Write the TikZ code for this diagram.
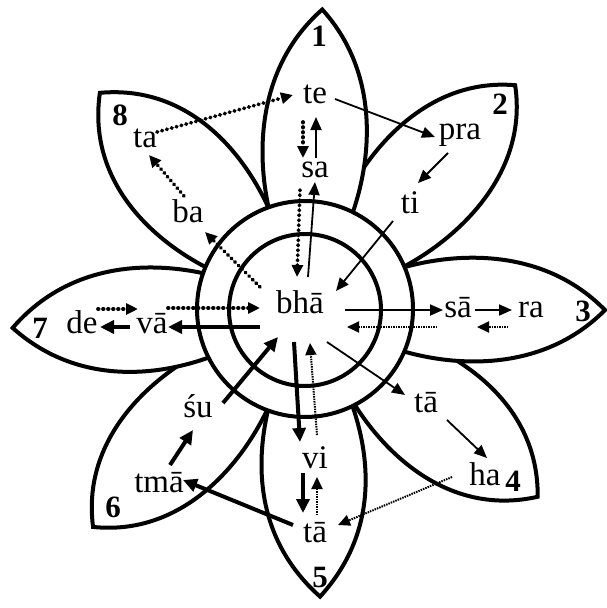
\documentclass[tikz,border=0pt]{standalone}
\usepackage{fontspec}
\setmainfont{Liberation Serif}
\usetikzlibrary{arrows.meta}

\begin{document}
\begin{tikzpicture}[
    x=1pt, y=-1pt,
    syl/.style={inner sep=0pt, anchor=base, font=\fontsize{33}{36}\selectfont},
    num/.style={inner sep=0pt, font=\fontsize{31}{34}\selectfont\bfseries},
    petal/.style={draw, line width=4pt, fill=white},
    ring/.style={draw, circle, line width=4pt, fill=white, inner sep=0pt},
    arrow/.style={-{Triangle[length=13pt, width=11pt]}, line width=1.8pt},
    heavy/.style={-{Triangle[length=14pt, width=13pt]}, line width=4pt},
    dots/.style={-{Triangle[length=12pt, width=11pt]}, line width=3.8pt, line cap=round, dash pattern=on 0.6pt off 4.4pt},
    fine/.style={-{Triangle[length=12pt, width=11pt]}, line width=2pt, dash pattern=on 1.5pt off 1pt}
]
\useasboundingbox (0,0) rectangle (606,608);

% petals: diagonal ones first, the four cardinal ones over them
\foreach \ang/\len in {46.8/307, -38.9/299, -134.2/304, 133.5/298}
  \draw[petal, shift={(305,309)}, rotate=\ang]
    (80,-36) -- (80,36) .. controls (140,62) and (\len-60,76) .. (\len,0)
    .. controls (\len-60,-76) and (140,-62) .. (80,-36) -- cycle;
\foreach \ang/\len in {86.7/300, -0.2/300, -87/288, 183.7/293}
  \draw[petal, shift={(305,309)}, rotate=\ang]
    (80,-36) -- (80,36) .. controls (140,58) and (\len-65,66) .. (\len,0)
    .. controls (\len-65,-66) and (140,-58) .. (80,-36) -- cycle;

\node[ring, minimum size=216pt] (outer) at (305,309) {};
\node[ring, minimum size=152pt] (inner) at (305,310) {};

% petal numbers
\node[num] (n1) at (319,36) {1};
\node[num] (n2) at (500,104) {2};
\node[num] (n3) at (583,311) {3};
\node[num] (n4) at (513,481) {4};
\node[num] (n5) at (320,577) {5};
\node[num] (n6) at (113,507) {6};
\node[num] (n7) at (40,328) {7};
\node[num] (n8) at (120,115) {8};

% syllables
\node[syl] (bha) at (300,313) {bhā};
\node[syl] (te) at (315,103) {te};
\node[syl] (sa) at (315,177) {sa};
\node[syl] (pra) at (460,139) {pra};
\node[syl] (ti) at (410,213) {ti};
\node[syl] (ta) at (145,147) {ta};
\node[syl] (ba) at (188,222) {ba};
\node[syl] (de) at (82,333) {de};
\node[syl] (va) at (152,333) {vā};
\node[syl] (saa) at (458,317) {sā};
\node[syl] (ra) at (531,317) {ra};
\node[syl] (taa) at (426,412) {tā};
\node[syl] (ha) at (485,485) {ha};
\node[syl] (vi) at (315,468) {vi};
\node[syl] (tab) at (315,542) {tā};
\node[syl] (su) at (198,417) {śu};
\node[syl] (tma) at (159,492) {tmā};

% upper petals
\draw[arrow] ([shift={(20,-4)}]te.base) -- ([shift={(-25,-2)}]pra.base);
\draw[arrow] ([shift={(-12,14)}]pra.base) -- ([shift={(8,-30)}]ti.base);
\draw[arrow] ([shift={(-17,8)}]ti.base) -- ([shift={(36,-22)}]bha.base);
\draw[arrow] ([shift={(8,-36)}]bha.base) -- ([shift={(0,5)}]sa.base);
\draw[arrow] ([shift={(1,-19)}]sa.base) -- ([shift={(1,14)}]te.base);
\draw[dots] ([shift={(-12,19)}]te.base) -- ([shift={(-12,-19)}]sa.base);
\draw[dots] ([shift={(-15,13)}]sa.base) -- ([shift={(-3,-36)}]bha.base);
\draw[dots] ([shift={(-40,-26)}]bha.base) -- ([shift={(17,10)}]ba.base);
\draw[dots] ([shift={(-4,-26)}]ba.base) -- ([shift={(4,8)}]ta.base);
\draw[dots] ([shift={(12,-15)}]ta.base) -- ([shift={(-22,-8)}]te.base);

% left and right petals
\draw[dots] ([shift={(16,-24)}]de.base) -- ([shift={(-14,-24)}]va.base);
\draw[dots] ([shift={(16,-25)}]va.base) -- ([shift={(-40,-5)}]bha.base);
\draw[heavy] ([shift={(-40,14)}]bha.base) -- ([shift={(16,-6)}]va.base);
\draw[heavy] ([shift={(-22,-6)}]va.base) -- ([shift={(18,-6)}]de.base);
\draw[arrow] ([shift={(45,-3)}]bha.base) -- ([shift={(-15,-7)}]saa.base);
\draw[arrow] ([shift={(17,-7)}]saa.base) -- ([shift={(-19,-7)}]ra.base);
\draw[fine] ([shift={(-23,10)}]ra.base) -- ([shift={(19,10)}]saa.base);
\draw[fine] ([shift={(-21,10)}]saa.base) -- ([shift={(47,14)}]bha.base);

% lower petals
\draw[arrow] ([shift={(27,29)}]bha.base) -- ([shift={(-21,-17)}]taa.base);
\draw[arrow] ([shift={(21,8)}]taa.base) -- ([shift={(2,-27)}]ha.base);
\draw[fine] ([shift={(-33,-8)}]ha.base) -- ([shift={(23,-17)}]tab.base);
\draw[heavy] ([shift={(-6,29)}]bha.base) -- ([shift={(-15,-26)}]vi.base);
\draw[fine] ([shift={(2,-33)}]vi.base) -- ([shift={(10,30)}]bha.base);
\draw[heavy] ([shift={(-12,5)}]vi.base) -- ([shift={(-12,-29)}]tab.base);
\draw[fine] ([shift={(2,-27)}]tab.base) -- ([shift={(2,9)}]vi.base);
\draw[heavy] ([shift={(-22,-17)}]tab.base) -- ([shift={(24,-12)}]tma.base);
\draw[heavy] ([shift={(11,-27)}]tma.base) -- ([shift={(-5,13)}]su.base);
\draw[heavy] ([shift={(25,-14)}]su.base) -- ([shift={(-22,24)}]bha.base);
\end{tikzpicture}
\end{document}
